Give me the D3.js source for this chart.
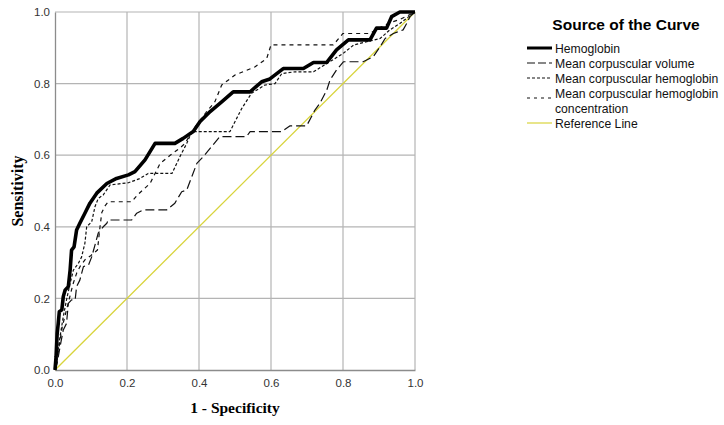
<!DOCTYPE html>
<html><head><meta charset="utf-8">
<script src="https://cdn.jsdelivr.net/npm/d3@7"></script>
<style>body{margin:0;background:#fff;}svg{display:block;}</style>
</head><body>
<svg id="chart" width="724" height="425"></svg>
<script>
const seriesNames = ["Hemoglobin","Mean corpuscular volume","Mean corpuscular hemoglobin","Mean corpuscular hemoglobin concentration","Reference Line"];
const ticks = [0.0,0.2,0.4,0.6,0.8,1.0];

const hbFpr = [0,0.003,0.006,0.009,0.012,0.019,0.023,0.028,0.037,0.042,0.046,0.053,0.06,0.069,0.083,0.097,0.116,0.144,0.171,0.204,0.222,0.25,0.278,0.333,0.356,0.384,0.403,0.431,0.463,0.495,0.542,0.574,0.597,0.634,0.69,0.718,0.755,0.782,0.815,0.875,0.893,0.921,0.935,0.958,1];
const hbTpr = [0,0.037,0.102,0.13,0.163,0.168,0.205,0.223,0.233,0.279,0.335,0.344,0.391,0.41,0.438,0.466,0.494,0.521,0.535,0.545,0.554,0.587,0.633,0.633,0.647,0.666,0.694,0.722,0.749,0.777,0.777,0.805,0.813,0.842,0.842,0.859,0.859,0.894,0.922,0.922,0.955,0.955,0.987,1,1];

const mcvFpr = [0,0.006,0.014,0.023,0.032,0.037,0.046,0.056,0.06,0.069,0.079,0.093,0.102,0.111,0.12,0.134,0.144,0.148,0.213,0.227,0.245,0.31,0.333,0.352,0.366,0.38,0.394,0.412,0.435,0.458,0.532,0.542,0.63,0.653,0.699,0.722,0.736,0.755,0.764,0.782,0.801,0.856,0.884,0.903,0.917,0.94,0.967,0.977,0.986,1];
const mcvTpr = [0,0.019,0.065,0.112,0.13,0.186,0.196,0.196,0.233,0.251,0.289,0.293,0.316,0.349,0.382,0.4,0.41,0.419,0.419,0.438,0.447,0.447,0.466,0.498,0.503,0.54,0.577,0.596,0.624,0.652,0.652,0.666,0.666,0.682,0.682,0.726,0.745,0.782,0.81,0.838,0.861,0.861,0.875,0.903,0.926,0.94,0.95,0.968,0.987,1];

const mchFpr = [0,0.006,0.014,0.023,0.032,0.042,0.051,0.065,0.074,0.083,0.088,0.102,0.111,0.12,0.134,0.153,0.204,0.236,0.259,0.325,0.347,0.366,0.38,0.486,0.519,0.546,0.583,0.611,0.63,0.667,0.718,0.755,0.8,0.83,0.903,0.93,0.958,0.98,1];
const mchTpr = [0,0.037,0.093,0.149,0.196,0.242,0.279,0.298,0.316,0.354,0.4,0.414,0.456,0.479,0.489,0.517,0.523,0.535,0.549,0.549,0.596,0.633,0.666,0.666,0.731,0.773,0.796,0.8,0.828,0.833,0.833,0.856,0.884,0.908,0.926,0.95,0.968,0.985,1];

const mchcFpr = [0,0.006,0.012,0.02,0.03,0.04,0.05,0.06,0.07,0.085,0.1,0.118,0.125,0.13,0.14,0.148,0.213,0.23,0.264,0.292,0.32,0.347,0.361,0.39,0.42,0.444,0.463,0.5,0.556,0.588,0.6,0.773,0.8,0.875,0.9,0.93,0.96,0.98,1];
const mchcTpr = [0,0.03,0.07,0.12,0.16,0.2,0.24,0.27,0.29,0.31,0.32,0.335,0.4,0.44,0.46,0.47,0.47,0.49,0.521,0.577,0.6,0.62,0.633,0.68,0.72,0.749,0.796,0.824,0.847,0.87,0.908,0.908,0.94,0.94,0.955,0.97,0.98,0.99,1];

const refFpr = [0,1];
const refTpr = [0,1];

const svg = d3.select("#chart");
const x = d3.scaleLinear().domain([0,1]).range([55,415]);
const y = d3.scaleLinear().domain([0,1]).range([370,12]);

// grid
const g = svg.append("g");
g.selectAll(".vg").data(ticks.slice(1)).join("line")
  .attr("x1",d=>x(d)).attr("x2",d=>x(d)).attr("y1",y(0)).attr("y2",y(1))
  .attr("stroke","#b4b4b4").attr("stroke-width",1.2);
g.selectAll(".hg").data(ticks.slice(1)).join("line")
  .attr("x1",x(0)).attr("x2",x(1)).attr("y1",d=>y(d)).attr("y2",d=>y(d))
  .attr("stroke","#b4b4b4").attr("stroke-width",1.2);

// axes
const xAxis = d3.axisBottom(x).tickValues(ticks).tickFormat(d3.format(".1f")).tickSize(0).tickPadding(9);
const yAxis = d3.axisLeft(y).tickValues(ticks).tickFormat(d3.format(".1f")).tickSize(0).tickPadding(5);
const gx = svg.append("g").attr("transform",`translate(0,${y(0)})`).call(xAxis);
const gy = svg.append("g").attr("transform",`translate(${x(0)},0)`).call(yAxis);
[gx,gy].forEach(a=>{
  a.select(".domain").attr("stroke","#8c8c8c").attr("stroke-width",1.3);
  a.selectAll("text").attr("font-family","Liberation Sans, Arial, sans-serif").attr("font-size",11.5).attr("fill","#333");
});

const line = d3.line().x(d=>x(d[0])).y(d=>y(d[1]));
const zip = (a,b)=>a.map((v,i)=>[v,b[i]]);

const styles = [
  {fpr:hbFpr,tpr:hbTpr,w:3.6,dash:null,color:"#000"},
  {fpr:mcvFpr,tpr:mcvTpr,w:1.2,dash:"9,4",color:"#111"},
  {fpr:mchFpr,tpr:mchTpr,w:1.2,dash:"3,2",color:"#111"},
  {fpr:mchcFpr,tpr:mchcTpr,w:1.2,dash:"4,4",color:"#111"},
  {fpr:refFpr,tpr:refTpr,w:1.3,dash:null,color:"#d8d43c"}
];
const order = [4,1,2,3,0];
order.forEach(i=>{
  const s = styles[i];
  svg.append("path").datum(zip(s.fpr,s.tpr)).attr("d",line)
    .attr("fill","none").attr("stroke",s.color).attr("stroke-width",s.w)
    .attr("stroke-dasharray",s.dash).attr("stroke-linejoin","round");
});

// axis titles
svg.append("text").attr("x",235).attr("y",413).attr("text-anchor","middle")
  .attr("font-family","Liberation Serif, DejaVu Serif, serif").attr("font-weight","bold").attr("font-size",15.5)
  .text("1 - Specificity");
svg.append("text").attr("transform","translate(23,191) rotate(-90)").attr("text-anchor","middle")
  .attr("font-family","Liberation Serif, DejaVu Serif, serif").attr("font-weight","bold").attr("font-size",16)
  .text("Sensitivity");

// legend
const lg = svg.append("g");
lg.append("text").attr("x",626).attr("y",30).attr("text-anchor","middle")
  .attr("font-family","Liberation Sans, Arial, sans-serif").attr("font-weight","bold").attr("font-size",15.5)
  .text("Source of the Curve");
const rowsY = [49,64,79,94,124];
const symY = [48,63,78,98,123];
seriesNames.forEach((n,i)=>{
  const s = styles[i];
  lg.append("line").attr("x1",527).attr("x2",552).attr("y1",symY[i]).attr("y2",symY[i])
    .attr("stroke",s.color).attr("stroke-width",i===0?3:1.2).attr("stroke-dasharray",i===1?"8,3":i===2?"3,2":i===3?"3,4":null);
  const t = lg.append("text").attr("x",555).attr("y",rowsY[i]+4)
    .attr("font-family","Liberation Sans, Arial, sans-serif").attr("font-size",12.2).attr("fill","#111");
  if(i===3){
    t.append("tspan").attr("x",555).text("Mean corpuscular hemoglobin");
    t.append("tspan").attr("x",555).attr("dy",15).text("concentration");
  } else t.text(n);
});
</script>
</body></html>
